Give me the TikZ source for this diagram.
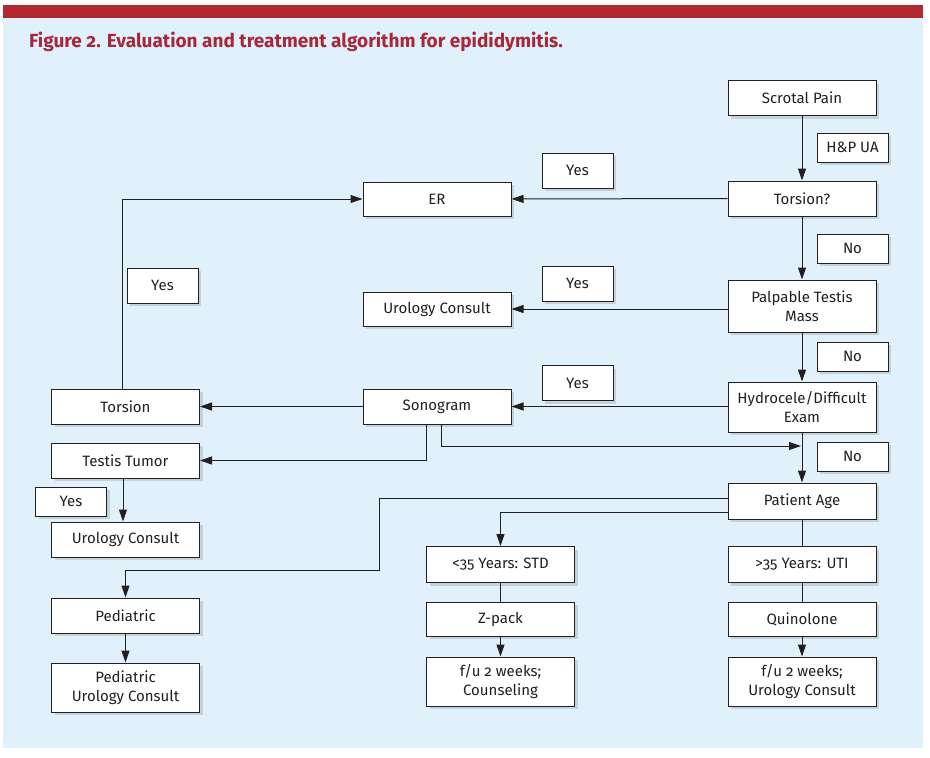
\documentclass[tikz,border=0pt]{standalone}
\usepackage{fontspec}
\setmainfont{Fira Sans}[Numbers=OldStyle]
\usetikzlibrary{arrows.meta,shadows}
\definecolor{bgblue}{HTML}{E0F1FB}
\definecolor{barred}{HTML}{B22930}
\definecolor{titlered}{HTML}{A8283A}
\definecolor{shadowc}{HTML}{C5D2DA}
\definecolor{inkc}{HTML}{231F20}
\tikzset{
  box/.style={draw=inkc, line width=1pt, fill=white, minimum width=148pt, minimum height=35pt,
    inner sep=0pt, align=center, text=inkc, font=\fontsize{15}{19}\selectfont,
    drop shadow={shadow xshift=3pt, shadow yshift=-3pt, fill=shadowc, opacity=1}},
  tall/.style={box, minimum height=50pt},
  lbl/.style={box, minimum width=71pt, minimum height=29pt},
  lbltall/.style={lbl, minimum height=35pt},
  conn/.style={draw=inkc, line width=1pt},
  arr/.style={conn, -{Triangle[length=12pt,width=8pt]}},
}
\begin{document}
\begin{tikzpicture}[x=1pt,y=-1pt]
\useasboundingbox (0,0) rectangle (930,758);
\fill[white] (0,0) rectangle (930,758);
\fill[bgblue] (3,18) rectangle (923,748);
\fill[barred] (3,5) rectangle (923,18);
\node[anchor=west, text=titlered, font=\bfseries\fontsize{19}{22}\selectfont, inner sep=0pt] (title) at (29,42) {Figure 2. Evaluation and treatment algorithm for epididymitis.};

% right column
\node[box] (scrotal) at (802,98) {Scrotal Pain};
\node[lbl] (hp) at (852.5,147.5) {H\&P UA};
\node[box] (torq) at (802,198.5) {Torsion?};
\node[lbl] (no1) at (852.5,248.5) {No};
\node[tall, minimum height=52pt] (palp) at (802,306) {Palpable Testis\\Mass};
\node[lbl] (no2) at (852.5,356.5) {No};
\node[tall] (hydro) at (802,407) {Hydrocele/Difficult\\Exam};
\node[lbl] (no3) at (852.5,456.5) {No};
\node[box, minimum height=36pt] (page) at (802,501) {Patient Age};
\node[box, minimum height=36pt] (gt) at (802,564.5) {>35 Years: UTI};
\node[box, minimum height=34pt] (quin) at (802,619) {Quinolone};
\node[tall, minimum height=49pt] (fu2) at (802,681.5) {f/u 2 weeks;\\Urology Consult};

% middle column
\node[lbltall] (yes1) at (577.5,170.5) {Yes};
\node[box, minimum height=34pt] (er) at (437,199) {ER};
\node[lbltall] (yes2) at (577.5,283.5) {Yes};
\node[box, minimum height=34pt] (uro1) at (437,309) {Urology Consult};
\node[lbltall] (yes3) at (577.5,383) {Yes};
\node[box] (sono) at (437,406.5) {Sonogram};
\node[box, minimum height=36pt] (lt) at (500.5,564.5) {<35 Years: STD};
\node[box, minimum height=34pt] (zpack) at (500.5,619) {Z-pack};
\node[tall, minimum height=49pt] (fu1) at (500.5,681.5) {f/u 2 weeks;\\Counseling};

% left column
\node[lbltall] (yesl) at (162.5,285.5) {Yes};
\node[box] (tors) at (125.5,406.5) {Torsion};
\node[box] (tumor) at (125.5,460.5) {Testis Tumor};
\node[lbl] (yesl2) at (71,501.5) {Yes};
\node[box] (uro2) at (125.5,539.5) {Urology Consult};
\node[box] (ped) at (125.5,615.5) {Pediatric};
\node[tall, minimum height=49pt] (pedu) at (125.5,687.5) {Pediatric\\Urology Consult};

\coordinate (join) at (802,446);

% connectors
\draw[arr] (scrotal) -- (torq);
\draw[arr] (torq) -- (er);
\draw[arr] (torq) -- (palp);
\draw[arr] (palp.west |- uro1.east) -- (uro1.east);
\draw[arr] (palp) -- (hydro);
\draw[arr] (hydro.west |- sono.east) -- (sono.east);
\draw[arr] (hydro) -- (page);
\draw[arr] (sono) -- (tors);
\draw[arr] ([xshift=-11pt]sono.south) |- (tumor.east);
\draw[arr] ([xshift=4pt]sono.south) |- ([xshift=-1pt]join);
\draw[arr] ([xshift=-3.5pt]tors.north) |- (er.west);
\draw[arr] ([xshift=-2.5pt]tumor.south) -- ([xshift=-2.5pt]uro2.north);
\draw[arr] (page.west |- 0,498) -| (379,570) -| (ped.north);
\draw[arr] (page.west |- 0,512) -| (lt.north);
\draw[conn] (page) -- (gt);
\draw[conn] (lt) -- (zpack);
\draw[conn] (gt) -- (quin);
\draw[arr] (zpack) -- (fu1);
\draw[arr] (quin) -- (fu2);
\draw[arr] (ped) -- (pedu);
\end{tikzpicture}
\end{document}
